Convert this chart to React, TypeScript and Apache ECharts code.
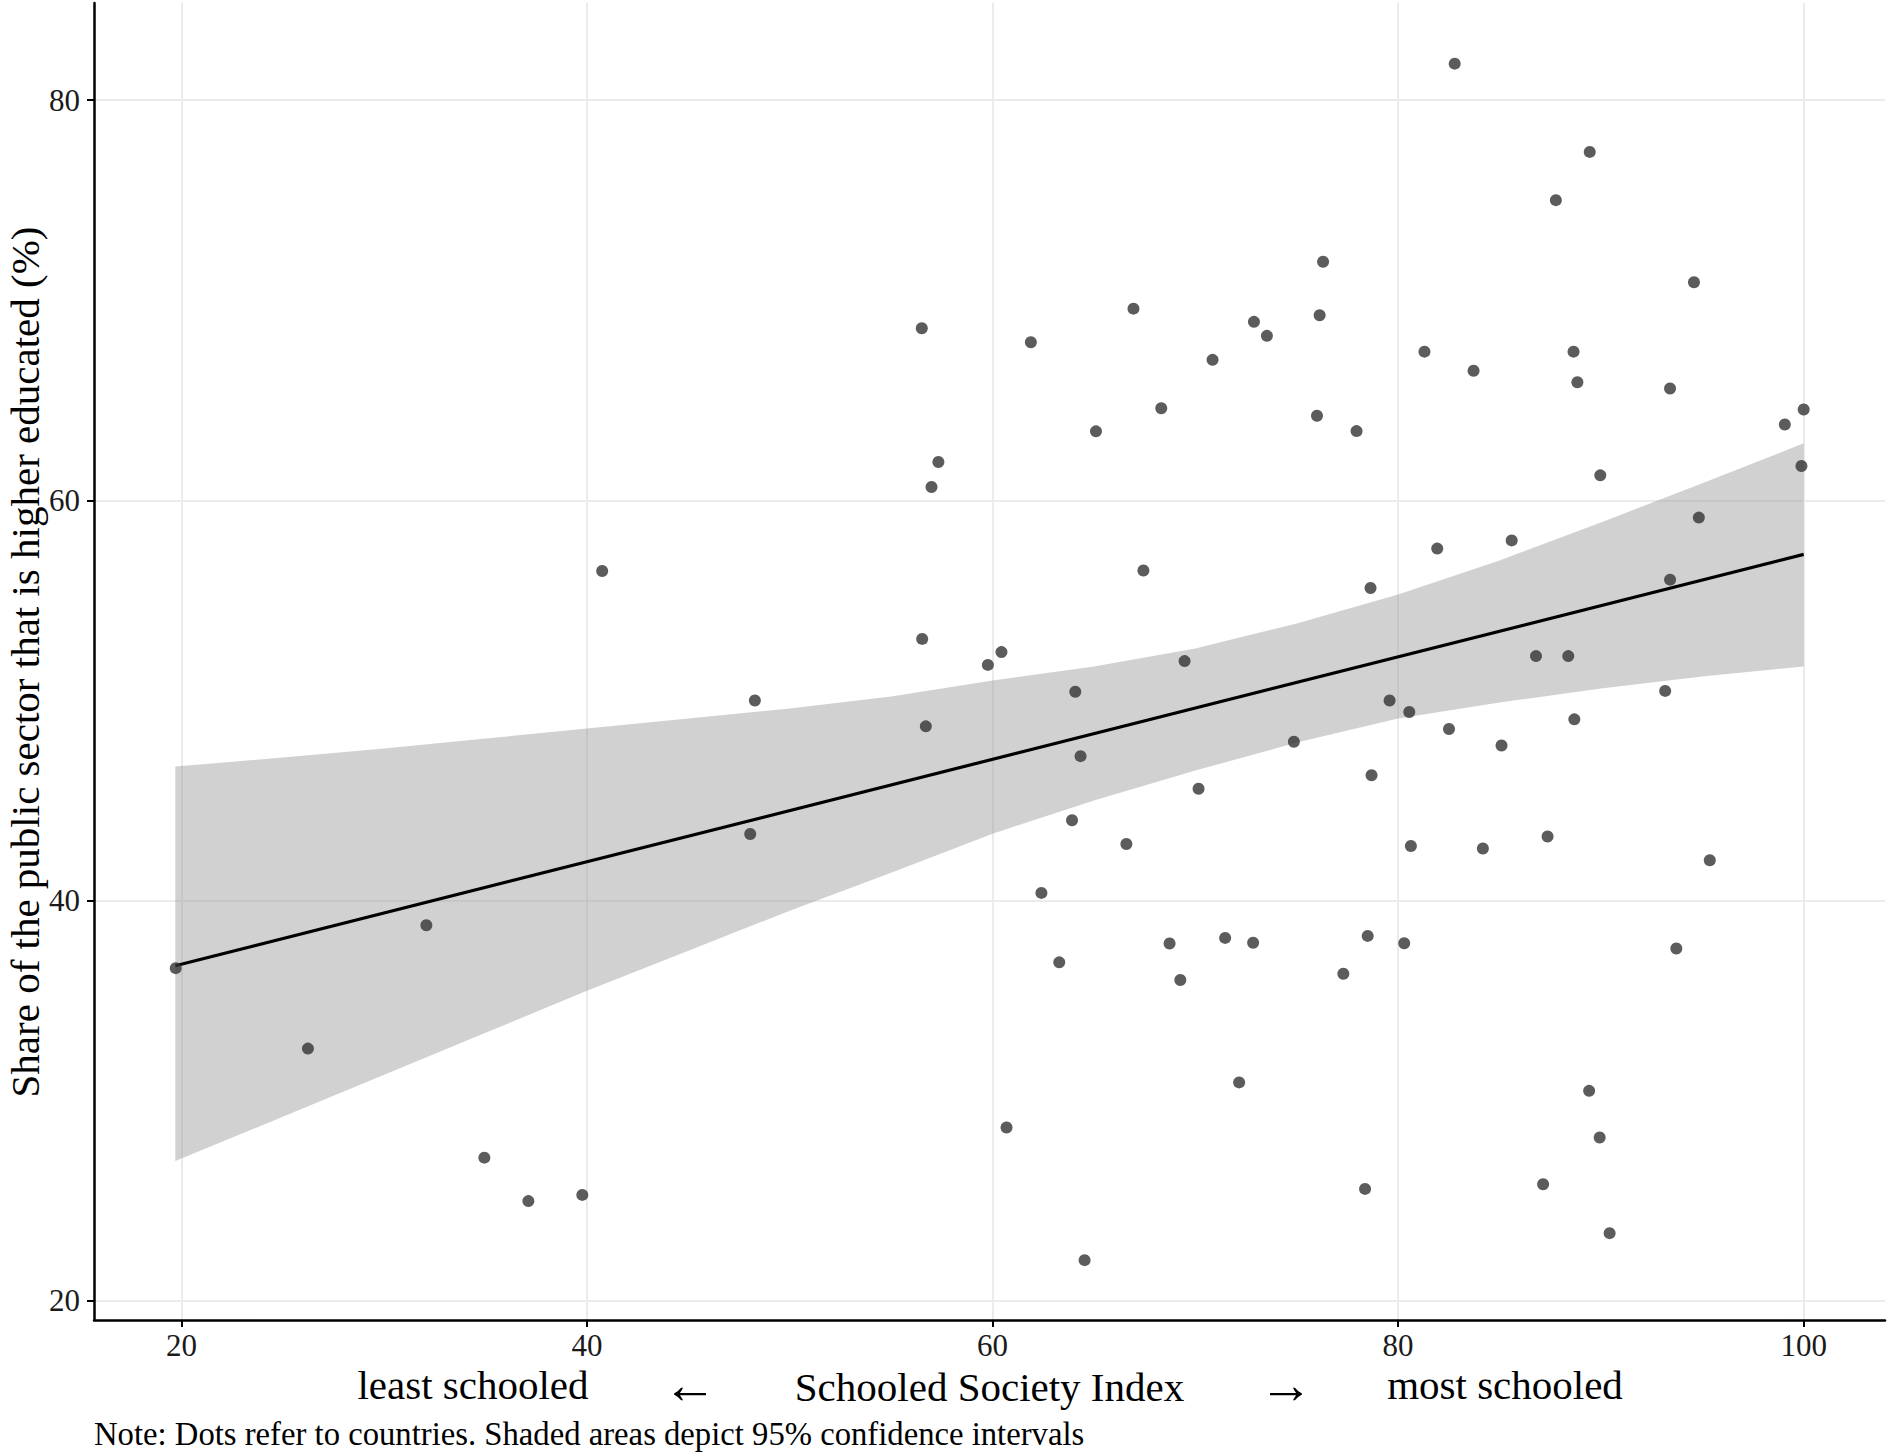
import React, { useEffect, useRef } from "react";
import * as echarts from "echarts";

// Country dots: [Schooled Society Index, share of public sector higher educated (%)]
const countryPoints: [number, number][] = [
  [19.72, 36.63], [26.24, 32.61], [32.08, 38.77], [34.94, 27.16], [37.11, 24.99],
  [39.77, 25.3], [40.75, 56.47], [48.05, 43.33], [48.28, 50.0], [56.51, 68.6],
  [56.53, 53.08], [56.71, 48.71], [56.99, 60.67], [57.33, 61.92], [59.77, 51.78],
  [60.44, 52.42], [60.69, 28.67], [61.89, 67.9], [62.41, 40.39], [63.29, 36.92],
  [63.92, 44.02], [64.08, 50.44], [64.34, 47.22], [64.54, 22.04], [65.1, 63.45],
  [66.6, 42.83], [66.95, 69.58], [67.44, 56.5], [68.32, 64.6], [68.73, 37.86],
  [69.26, 36.04], [69.47, 51.97], [70.16, 45.59], [70.85, 67.02], [71.47, 38.14],
  [72.16, 30.92], [72.85, 37.9], [72.89, 68.92], [73.53, 68.22], [74.86, 47.94],
  [76.0, 64.23], [76.13, 69.25], [76.3, 71.92], [77.3, 36.35], [77.95, 63.46],
  [78.37, 25.6], [78.5, 38.24], [78.64, 55.62], [78.69, 46.27], [79.58, 50.0],
  [80.3, 37.87], [80.55, 49.43], [80.63, 42.73], [81.3, 67.43], [81.93, 57.59],
  [82.51, 48.58], [82.79, 81.82], [83.72, 66.48], [84.18, 42.61], [85.1, 47.75],
  [85.6, 58.0], [86.8, 52.22], [87.15, 25.83], [87.37, 43.21], [87.78, 75.0],
  [88.39, 52.22], [88.65, 67.43], [88.69, 49.06], [88.84, 65.9], [89.42, 30.5],
  [89.45, 77.41], [89.94, 28.17], [89.97, 61.25], [90.43, 23.39], [93.17, 50.48],
  [93.41, 65.59], [93.41, 56.04], [93.72, 37.61], [94.59, 70.9], [94.83, 59.14],
  [95.37, 42.02], [99.07, 63.79], [99.89, 61.72], [100.0, 64.54],
];

// Linear fit line endpoints
const fitX = [19.7, 100];
const fitY = [36.75, 57.3];

// 95% confidence band
const bandX = [19.7, 25, 30, 35, 40, 45, 50, 55, 60, 65, 70, 75, 80, 85, 90, 95, 100];
const bandLower = [27.0, 29.2, 31.3, 33.4, 35.5, 37.5, 39.5, 41.4, 43.35, 45.0, 46.5, 47.9, 49.1, 49.9, 50.6, 51.2, 51.7];
const bandUpper = [46.7, 47.15, 47.6, 48.1, 48.6, 49.1, 49.6, 50.2, 51.0, 51.7, 52.6, 53.85, 55.3, 57.0, 58.9, 60.85, 62.85];

// Tick values
const xTicks = [20, 40, 60, 80, 100];
const yTicks = [20, 40, 60, 80];

const FONT = "'Liberation Serif', 'Times New Roman', serif";

export default function App() {
  const ref = useRef<HTMLDivElement>(null);

  useEffect(() => {
    if (!ref.current) return;
    const chart = echarts.init(ref.current, undefined, { renderer: "svg" });

    const upperPts = bandX.map((x, i) => [x, bandUpper[i]]);
    const lowerPts = bandX.map((x, i) => [x, bandLower[i]]).reverse();
    const bandPoly = [...upperPts, ...lowerPts];

    const option: any = {
      animation: false,
      backgroundColor: "#ffffff",
      grid: { left: 94, right: 7, top: 3, bottom: 136, containLabel: false, outerBoundsMode: "none" },
      xAxis: {
        type: "value",
        min: 15.69,
        max: 104.01,
        axisLine: { show: true, onZero: false, lineStyle: { color: "#000", width: 2.5 } },
        axisTick: { show: true, length: 7, lineStyle: { color: "#000", width: 2 }, customValues: xTicks },
        axisLabel: {
          customValues: xTicks,
          fontSize: 31,
          fontFamily: FONT,
          color: "#1a1a1a",
          margin: 10,
        },
        splitLine: { show: false },
        name: "Schooled Society Index",
        nameLocation: "middle",
        nameGap: 46,
        nameTextStyle: { fontSize: 41, fontFamily: FONT, color: "#000" },
      },
      yAxis: {
        type: "value",
        min: 19.05,
        max: 84.85,
        axisLine: { show: true, onZero: false, lineStyle: { color: "#000", width: 2.5 } },
        axisTick: { show: true, length: 7, lineStyle: { color: "#000", width: 2 }, customValues: yTicks },
        axisLabel: {
          customValues: yTicks,
          fontSize: 31,
          fontFamily: FONT,
          color: "#1a1a1a",
          margin: 14,
        },
        splitLine: { show: false },
      },
      series: [
        {
          type: "custom",
          z: 1,
          silent: true,
          clip: true,
          data: [[bandX[0], bandLower[0]]],
          renderItem: (_params: any, api: any) => ({
            type: "polygon",
            shape: { points: bandPoly.map((p) => api.coord(p)) },
            style: { fill: "rgba(153,153,153,0.45)" },
          }),
          markLine: {
            silent: true,
            z: 0,
            symbol: ["none", "none"],
            label: { show: false },
            lineStyle: { color: "#ebebeb", width: 2, type: "solid" },
            emphasis: { disabled: true },
            data: [
              ...xTicks.map((v) => ({ xAxis: v })),
              ...yTicks.map((v) => ({ yAxis: v })),
            ],
          },
        },
        {
          type: "line",
          z: 3,
          silent: true,
          symbol: "none",
          data: fitX.map((x, i) => [x, fitY[i]]),
          lineStyle: { color: "#000", width: 3.2 },
        },
        {
          type: "scatter",
          z: 4,
          silent: true,
          symbolSize: 12,
          data: countryPoints,
          itemStyle: { color: "#333333" },
        },
      ],
      graphic: [
        {
          type: "text",
          x: 25,
          y: 662,
          rotation: Math.PI / 2,
          style: {
            text: "Share of the public sector that is higher educated (%)",
            fontSize: 41,
            fontFamily: FONT,
            fill: "#000",
            align: "center",
            verticalAlign: "middle",
          },
        },
        {
          type: "text",
          x: 473,
          y: 1385,
          style: { text: "least schooled", fontSize: 41, fontFamily: FONT, fill: "#000", align: "center", verticalAlign: "middle" },
        },
        {
          type: "text",
          x: 690,
          y: 1385,
          style: { text: "←", fontSize: 54, fontFamily: FONT, fill: "#000", align: "center", verticalAlign: "middle" },
        },
        {
          type: "text",
          x: 1286,
          y: 1385,
          style: { text: "→", fontSize: 54, fontFamily: FONT, fill: "#000", align: "center", verticalAlign: "middle" },
        },
        {
          type: "text",
          x: 1505,
          y: 1385,
          style: { text: "most schooled", fontSize: 41, fontFamily: FONT, fill: "#000", align: "center", verticalAlign: "middle" },
        },
        {
          type: "text",
          x: 94,
          y: 1434,
          style: {
            text: "Note: Dots refer to countries. Shaded areas depict 95% confidence intervals",
            fontSize: 32.7,
            fontFamily: FONT,
            fill: "#000",
            align: "left",
            verticalAlign: "middle",
          },
        },
      ],
    };

    chart.setOption(option);
    return () => chart.dispose();
  }, []);

  return (
    <div
      ref={ref}
      style={{ position: "fixed", left: 0, top: 0, width: 1892, height: 1456, background: "#fff" }}
    />
  );
}
